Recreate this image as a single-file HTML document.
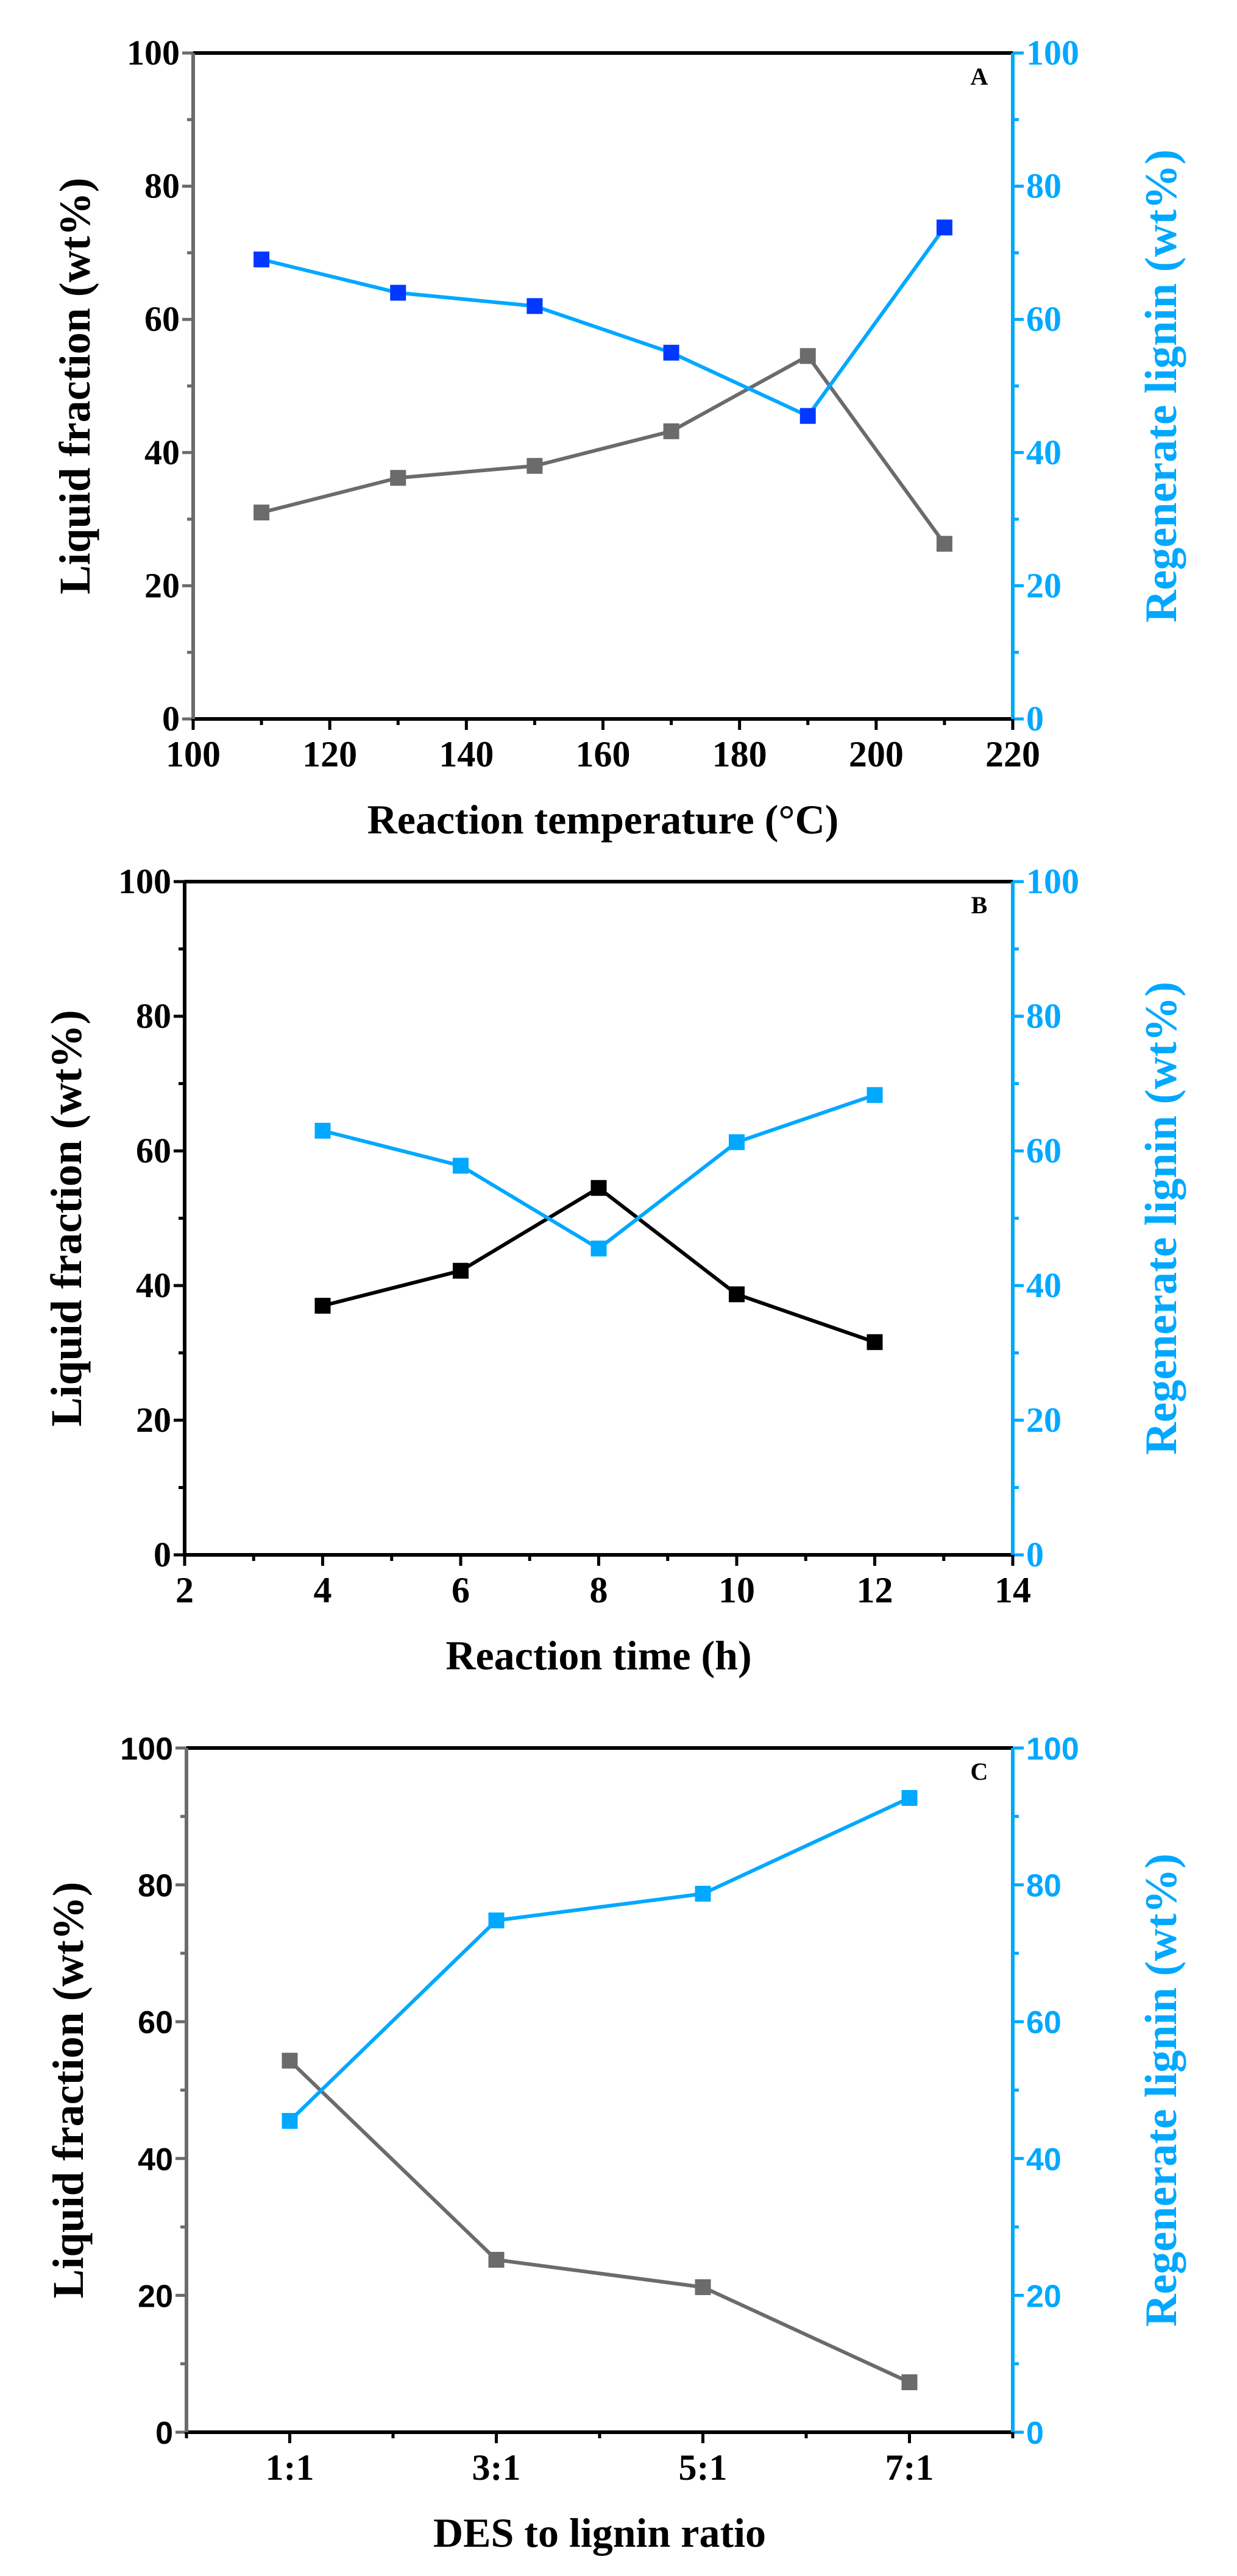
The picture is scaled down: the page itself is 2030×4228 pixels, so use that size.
<!DOCTYPE html>
<html><head><meta charset="utf-8">
<style>
html,body{margin:0;padding:0;background:#fff;}
svg{display:block;}
text{font-family:"Liberation Serif",serif;font-weight:bold;}
</style></head>
<body>
<svg id="fig" width="2030" height="4228" viewBox="0 0 2030 4228" xmlns="http://www.w3.org/2000/svg"></svg>
<script>
// Panel A data
const tempCategories = [110, 130, 150, 170, 190, 210];
const tempLiquid = [31, 36.2, 38, 43.2, 54.5, 26.3];
const tempLignin = [69, 64, 62, 55, 45.5, 73.8];
const tempXTicks = [100, 120, 140, 160, 180, 200, 220];
// Panel B data
const timeCategories = [4, 6, 8, 10, 12];
const timeLiquid = [37, 42.2, 54.5, 38.7, 31.6];
const timeLignin = [63, 57.8, 45.5, 61.3, 68.3];
const timeXTicks = [2, 4, 6, 8, 10, 12, 14];
// Panel C data
const ratioCategories = ["1:1", "3:1", "5:1", "7:1"];
const ratioLiquid = [54.3, 25.2, 21.2, 7.3];
const ratioLignin = [45.5, 74.8, 78.7, 92.7];
const yTicks = [0, 20, 40, 60, 80, 100];

const NS = "http://www.w3.org/2000/svg";
const svg = document.getElementById('fig');
function mk(tag, attrs, parent, txt){
  const e = document.createElementNS(NS, tag);
  for (const k in attrs) e.setAttribute(k, attrs[k]);
  if (txt !== undefined) e.textContent = txt;
  (parent || svg).appendChild(e);
  return e;
}
const BLUE = '#00a8ff';

function panel(opt){
  const g = mk('g', {});
  
  
  const L = opt.L, R = opt.R, T = opt.T, B = opt.B;
  const xs = v => L + (v - opt.xmin) / (opt.xmax - opt.xmin) * (R - L);
  const ys = v => B - v / 100 * (B - T);
  const tickFont = opt.sansY ? 'font-family:"Liberation Sans",sans-serif' : '';
  const tfs = opt.sansY ? 52 : 58;
  for (let v = 10; v < 100; v += 20) {
    const t1 = mk('line', {x1: L - 10, x2: L, y1: ys(v), y2: ys(v), stroke: opt.leftColor, 'stroke-width': 5}, g);
    
    
    const t2 = mk('line', {x1: R, x2: R + 10, y1: ys(v), y2: ys(v), stroke: BLUE, 'stroke-width': 5}, g);
    
    
  }
  yTicks.forEach(v => {
    const t = mk('line', {x1: L - 18, x2: L, y1: ys(v), y2: ys(v), stroke: opt.leftColor, 'stroke-width': 5}, g);
    
    
    const lb = mk('text', {x: L - 22, y: ys(v) + 19, 'text-anchor': 'end', 'font-size': tfs, fill: '#000', style: tickFont}, g, v);
    
    
    const t2 = mk('line', {x1: R, x2: R + 18, y1: ys(v), y2: ys(v), stroke: BLUE, 'stroke-width': 5}, g);
    
    
    const lb2 = mk('text', {x: R + 22, y: ys(v) + 19, 'text-anchor': 'start', 'font-size': tfs, fill: BLUE, style: tickFont}, g, v);
    
    
  });
  opt.xTickVals.forEach((v, i) => {
    const major = opt.xLabels[i] !== '';
    const t = mk('line', {x1: xs(v), x2: xs(v), y1: B, y2: B + (major ? 18 : 10), stroke: '#000', 'stroke-width': 5}, g);
    
    
  });
  opt.xLabelPos.forEach((v, i) => {
    const lb = mk('text', {x: xs(v), y: B + 78, 'text-anchor': 'middle', 'font-size': 60, fill: '#000'}, g, opt.xLabelText[i]);
    
    
  });
  const top = mk('line', {x1: L, x2: R, y1: T, y2: T, stroke: '#000', 'stroke-width': 6}, g);
  
  
  const bot = mk('line', {x1: L - 3, x2: R, y1: B, y2: B, stroke: '#000', 'stroke-width': 6}, g);
  
  
  const la = mk('line', {x1: L, x2: L, y1: T, y2: B, stroke: opt.leftColor, 'stroke-width': 6}, g);
  
  
  const ra = mk('line', {x1: R, x2: R, y1: T, y2: B, stroke: BLUE, 'stroke-width': 6}, g);
  
  
  function series(vals, lineColor, markColor, name){
    const pts = vals.map((v, i) => xs(opt.xVals[i]) + ',' + ys(v)).join(' ');
    const pl = mk('polyline', {points: pts, fill: 'none', stroke: lineColor, 'stroke-width': 6}, g);
    
    
    vals.forEach((v, i) => {
      const r = mk('rect', {x: xs(opt.xVals[i]) - 13, y: ys(v) - 13, width: 26, height: 26, fill: markColor}, g);
      
      
    });
  }
  series(opt.liquid, opt.liqColor, opt.liqColor, 'liquid-fraction');
  series(opt.lignin, BLUE, opt.ligMark, 'regenerate-lignin');
  const cy = (T + B) / 2;
  const yt = mk('text', {x: 0, y: 0, transform: `translate(${L - 170},${cy}) rotate(-90)`, 'text-anchor': 'middle', 'font-size': 72, fill: '#000'}, g, 'Liquid fraction (wt%)');
  
  
  const yt2 = mk('text', {x: 0, y: 0, transform: `translate(${R + 268},${cy}) rotate(-90)`, 'text-anchor': 'middle', 'font-size': 74, fill: BLUE}, g, 'Regenerate lignin (wt%)');
  
  
  const xt = mk('text', {x: (L + R) / 2, y: B + 188, 'text-anchor': 'middle', 'font-size': 68, fill: '#000'}, g, opt.xTitle);
  
  
  const pl = mk('text', {x: R - 55, y: T + 52, 'text-anchor': 'middle', 'font-size': 40, fill: '#000'}, g, opt.id);
  
  
}

panel({id: 'A', L: 317, R: 1662, T: 87, B: 1180, xmin: 100, xmax: 220,
  xTickVals: [100,110,120,130,140,150,160,170,180,190,200,210,220],
  xLabels: ['1','','1','','1','','1','','1','','1','','1'],
  xLabelPos: tempXTicks, xLabelText: tempXTicks,
  xVals: tempCategories, liquid: tempLiquid, lignin: tempLignin,
  leftColor: '#6b6b6b', liqColor: '#6b6b6b', ligMark: '#0038ff',
  xTitle: 'Reaction temperature (\u00B0C)'});

panel({id: 'B', L: 303, R: 1662, T: 1447, B: 2552, xmin: 2, xmax: 14,
  xTickVals: [2,3,4,5,6,7,8,9,10,11,12,13,14],
  xLabels: ['1','','1','','1','','1','','1','','1','','1'],
  xLabelPos: timeXTicks, xLabelText: timeXTicks,
  xVals: timeCategories, liquid: timeLiquid, lignin: timeLignin,
  leftColor: '#000', liqColor: '#000', ligMark: BLUE,
  xTitle: 'Reaction time (h)'});

panel({id: 'C', L: 306, R: 1662, T: 2869, B: 3992, xmin: 0, xmax: 8,
  xTickVals: [0,1,2,3,4,5,6,7,8],
  xLabels: ['','1','','1','','1','','1',''],
  xLabelPos: [1,3,5,7], xLabelText: ratioCategories,
  xVals: [1,3,5,7], liquid: ratioLiquid, lignin: ratioLignin,
  leftColor: '#6b6b6b', liqColor: '#6b6b6b', ligMark: BLUE, sansY: true,
  xTitle: 'DES to lignin ratio'});
</script>
</body></html>
